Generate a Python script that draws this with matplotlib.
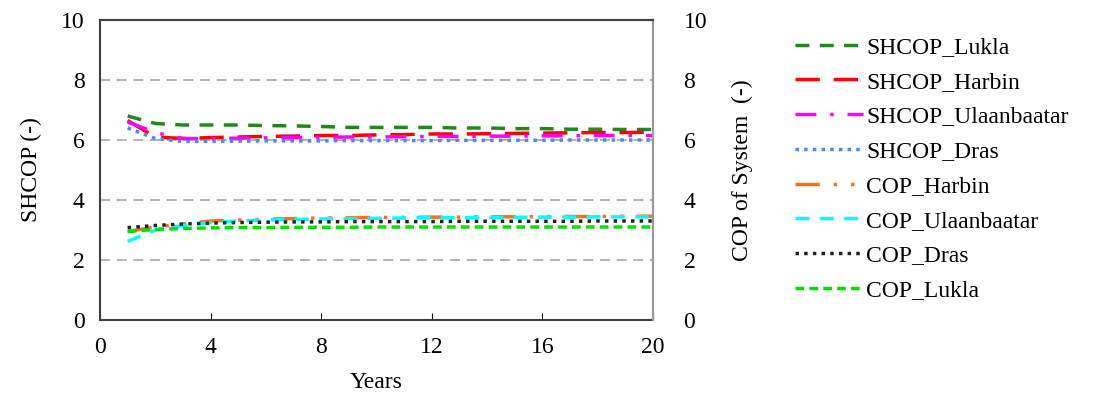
import numpy as np
import matplotlib.pyplot as plt

plt.rcParams['font.family'] = ['Liberation Serif', 'DejaVu Serif']

years = np.arange(1, 21)

shcop_lukla = [6.80, 6.55, 6.50, 6.50, 6.50, 6.48, 6.47, 6.45, 6.42, 6.42, 6.42, 6.42, 6.40, 6.40, 6.38, 6.38, 6.36, 6.36, 6.35, 6.35]
shcop_harbin = [6.65, 6.10, 6.05, 6.08, 6.10, 6.12, 6.13, 6.15, 6.15, 6.17, 6.18, 6.20, 6.20, 6.21, 6.22, 6.23, 6.24, 6.25, 6.25, 6.26]
shcop_ulaanbaatar = [6.60, 6.25, 6.05, 6.05, 6.06, 6.07, 6.08, 6.09, 6.10, 6.10, 6.11, 6.12, 6.12, 6.13, 6.13, 6.14, 6.14, 6.15, 6.15, 6.15]
shcop_dras = [6.40, 6.05, 5.95, 5.96, 5.96, 5.97, 5.97, 5.97, 5.98, 5.98, 5.98, 5.98, 5.99, 5.99, 5.99, 5.99, 6.00, 6.00, 6.00, 6.00]
cop_harbin = [2.95, 3.10, 3.20, 3.30, 3.33, 3.36, 3.38, 3.40, 3.41, 3.42, 3.42, 3.43, 3.43, 3.44, 3.44, 3.45, 3.45, 3.45, 3.46, 3.46]
cop_ulaanbaatar = [2.62, 3.00, 3.15, 3.25, 3.30, 3.33, 3.35, 3.37, 3.38, 3.39, 3.40, 3.41, 3.41, 3.42, 3.42, 3.43, 3.43, 3.44, 3.44, 3.44]
cop_dras = [3.08, 3.15, 3.20, 3.23, 3.25, 3.26, 3.27, 3.27, 3.28, 3.28, 3.28, 3.28, 3.29, 3.29, 3.29, 3.29, 3.29, 3.30, 3.30, 3.30]
cop_lukla = [2.95, 3.02, 3.05, 3.07, 3.08, 3.08, 3.09, 3.09, 3.09, 3.10, 3.10, 3.10, 3.10, 3.10, 3.10, 3.10, 3.10, 3.10, 3.10, 3.10]

fig = plt.figure(figsize=(10.97, 3.99), dpi=100)
ax = fig.add_axes([100/1097, 79/399, 553/1097, 300/399])
ax2 = ax.twinx()

lw = 2.5
lines = []
lines += ax.plot(years, shcop_lukla, color='#1e8a1e', lw=lw, dashes=(4, 3), label='SHCOP_Lukla')
lines += ax.plot(years, shcop_harbin, color='#ff0000', lw=lw, dashes=(7, 4), label='SHCOP_Harbin')
lines += ax.plot(years, shcop_ulaanbaatar, color='#ff00ff', lw=lw, dashes=(6, 4, 1, 4), label='SHCOP_Ulaanbaatar')
lines += ax.plot(years, shcop_dras, color='#4f86f7', lw=lw, dashes=(1, 1.5), label='SHCOP_Dras')
lines += ax2.plot(years, cop_harbin, color='#e87722', lw=lw, dashes=(7, 4, 1, 4, 1, 4), label='COP_Harbin')
lines += ax2.plot(years, cop_ulaanbaatar, color='#00ffff', lw=lw, dashes=(4, 3), label='COP_Ulaanbaatar')
lines += ax2.plot(years, cop_dras, color='#222222', lw=lw, dashes=(1, 1.5), label='COP_Dras')
lines += ax2.plot(years, cop_lukla, color='#00e000', lw=lw, dashes=(2.5, 1.5), label='COP_Lukla')

for a in (ax, ax2):
    a.set_ylim(0, 10)
    a.set_yticks(np.arange(0, 11, 2))
ax.set_xlim(0, 20)
ax.set_xticks(np.arange(0, 21, 4))

for y in [2, 4, 6, 8]:
    ax.axhline(y, color='#a6a6a6', lw=1.2, dashes=(6, 4), zorder=0)

ax.tick_params(axis='x', direction='in', length=5, labelsize=17, pad=12)
ax.tick_params(axis='y', length=0, labelsize=17, pad=11)
ax2.tick_params(axis='y', length=0, labelsize=17, pad=22)

for s in ['left', 'bottom', 'top']:
    ax.spines[s].set_color('#404040')
    ax.spines[s].set_linewidth(1.5)
ax.spines['right'].set_color('#999999')
ax.spines['right'].set_linewidth(1.5)
ax2.spines['right'].set_color('#999999')
ax2.spines['right'].set_linewidth(1.5)
ax2.spines['top'].set_color('#404040')
ax2.spines['top'].set_linewidth(1.5)
ax2.spines['left'].set_visible(False)
ax2.spines['bottom'].set_visible(False)

ax.set_xlabel('Years', fontsize=17, labelpad=10)
ax.set_ylabel('SHCOP (-)', fontsize=17, labelpad=14)
ax2.set_ylabel('COP of System  (-)', fontsize=17, labelpad=18)

fig.legend(handles=lines, loc='upper left', bbox_to_anchor=(786/1097, 1 - 27/399),
           frameon=False, fontsize=17, handlelength=2.85, handletextpad=0.15,
           labelspacing=0.56, borderaxespad=0)

fig.savefig('out.png', dpi=100)
